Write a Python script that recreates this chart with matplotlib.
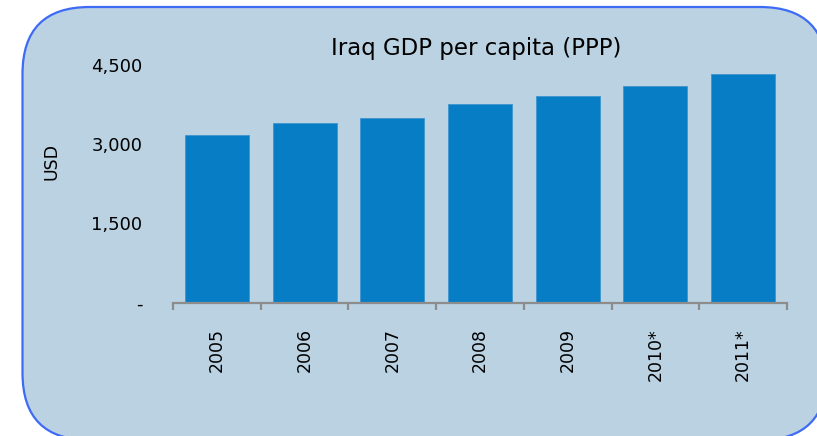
import matplotlib
matplotlib.use("Agg")
import matplotlib.pyplot as plt
from matplotlib.patches import FancyBboxPatch
import numpy as np

years = ["2005", "2006", "2007", "2008", "2009", "2010*", "2011*"]
gdp_per_capita = [3170, 3400, 3485, 3755, 3905, 4095, 4320]
y_ticks = [0, 1500, 3000, 4500]
y_tick_labels = ["-", "1,500", "3,000", "4,500"]

BG = "#BBD2E2"
BORDER = "#3D6BF5"
BAR = "#077DC6"
AXIS = "#8C8C8C"

W, H = 817, 436
fig = plt.figure(figsize=(W / 100, H / 100), dpi=100)
fig.patch.set_facecolor("white")

# rounded panel behind the chart, drawn in pixel units (runs off the right/bottom edge)
bg = fig.add_axes((0, 0, 1, 1), zorder=0)
bg.set_xlim(0, W)
bg.set_ylim(H, 0)
bg.axis("off")
bg.add_patch(FancyBboxPatch((22.5, 7), 804.5, 433,
                            boxstyle="round,pad=0,rounding_size=67",
                            facecolor=BG, edgecolor=BORDER, linewidth=1.6))

ax = fig.add_axes((173 / W, 1 - 303 / H, 614 / W, 238.5 / H), zorder=1)
ax.patch.set_alpha(0)
x = np.arange(len(years))
ax.bar(x, gdp_per_capita, width=0.73, color=BAR, edgecolor="#3F93CF", linewidth=0.6)

ax.set_xlim(-0.5, len(years) - 0.5)
ax.set_ylim(0, 4500)
for s in ("top", "right", "left"):
    ax.spines[s].set_visible(False)
ax.spines["bottom"].set_color(AXIS)
ax.spines["bottom"].set_linewidth(1.6)

ax.set_xticks(x)
ax.set_xticklabels(years, rotation=90, fontsize=12.5, va="top")
ax.set_xticks(np.arange(-0.5, len(years)), minor=True)
ax.tick_params(axis="x", which="major", length=0, pad=18)
ax.tick_params(axis="x", which="minor", length=5, width=1.6, color=AXIS, direction="out")

ax.set_yticks(y_ticks)
ax.set_yticklabels(y_tick_labels, fontsize=13)
ax.tick_params(axis="y", length=0, pad=22)

fig.text(476 / W, 1 - 49 / H, "Iraq GDP per capita (PPP)", fontsize=16.5,
         ha="center", va="center")
fig.text(52 / W, 1 - 161 / H, "USD", fontsize=12.5, rotation=90,
         ha="center", va="center")

fig.savefig("out.png", dpi=100, facecolor=fig.get_facecolor())
